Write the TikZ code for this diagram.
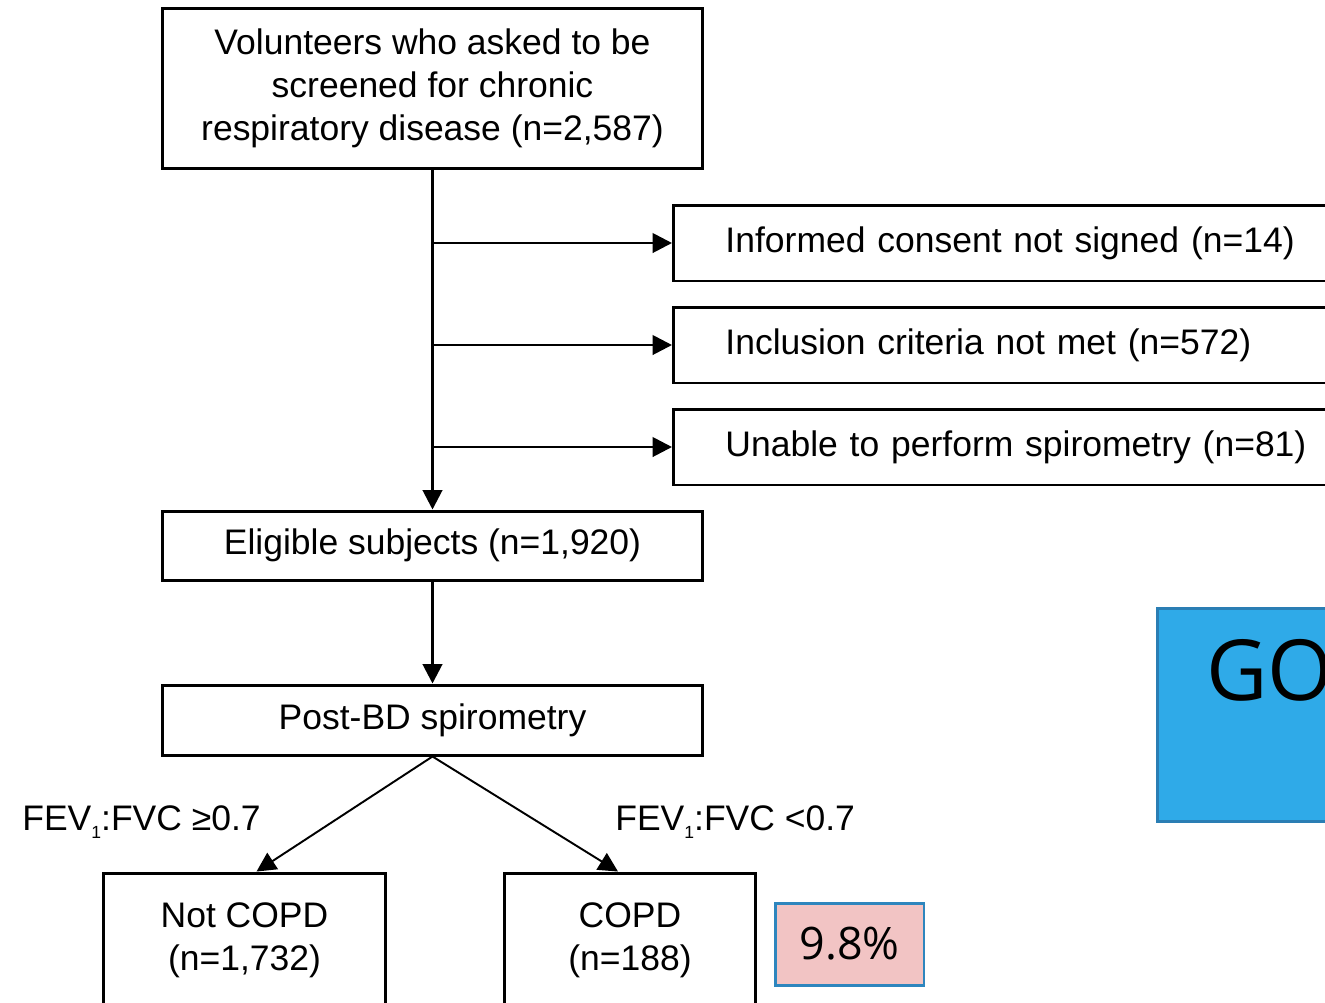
\documentclass[tikz,border=0pt]{standalone}
\usepackage{fontspec}
\setmainfont{Liberation Sans}
\newfontfamily\opensans{Open Sans}
\usetikzlibrary{arrows.meta, positioning}

\definecolor{goblue}{RGB}{47,170,232}
\definecolor{goedge}{RGB}{42,126,180}
\definecolor{pctpink}{RGB}{242,196,196}
\definecolor{pctedge}{RGB}{46,134,190}

\begin{document}
\begin{tikzpicture}[x=0.02cm, y=-0.02cm, >={Triangle[length=11pt, width=11pt]},
    font=\fontsize{20.2}{24.5}\selectfont]
            \tikzset{
                box/.style={
                        draw, line width=1.7pt, align=center, inner sep=0pt
                    },
                sidebox/.style={
                        draw, line width=1.7pt, anchor=west, minimum height=1.52cm,
                        inner xsep=1.04cm, text width=11.92cm, align=left
                    },
                arr/.style={->, line width=1.6pt},
                ratio/.style={anchor=west, inner sep=0pt}
            }
            \useasboundingbox (0,0) rectangle (1325,1002);
            \clip (0,0) rectangle (1325,1002);

            % Main boxes
            \node[box, minimum width=10.82cm, minimum height=3.22cm] (volunteers) at (432.5,88.5)
                {Volunteers who asked to be\\screened for chronic\\respiratory disease (n=2,587)};
            \node[box, minimum width=10.82cm, minimum height=1.38cm] (eligible) at (432.5,545.5)
                {Eligible subjects (n=1,920)};
            \node[box, minimum width=10.82cm, minimum height=1.40cm] (postbd) at (432.5,720)
                {Post-BD spirometry};

            % Exclusions
            \node[sidebox] (consent) at (672,243) {Informed consent not signed (n=14)};
            \node[sidebox] (criteria) at (672,345) {Inclusion criteria not met (n=572)};
            \node[sidebox] (unable) at (672,447) {Unable to perform spirometry (n=81)};

            % Outcomes
            \node[box, minimum width=5.66cm, minimum height=2.68cm] (notcopd) at (244.5,940)
                {Not COPD\\(n=1,732)};
            \node[box, minimum width=5.04cm, minimum height=2.68cm] (copd) at (630,940)
                {COPD\\(n=188)};
            \node[ratio] (ratiohigh) at (22,822) {FEV\raisebox{-0.45ex}{\fontsize{10}{10}\selectfont 1}:FVC ≥0.7};
            \node[ratio] (ratiolow) at (615,822) {FEV\raisebox{-0.45ex}{\fontsize{10}{10}\selectfont 1}:FVC <0.7};

            % Side notes
            \node[draw=pctedge, fill=pctpink, line width=1.7pt, minimum width=2.98cm, minimum height=1.64cm,
                font=\opensans\fontsize{25.5}{25.5}\selectfont] (pct) at (849.5,944) {9.8\%};
            \node[draw=goedge, fill=goblue, line width=1.7pt, anchor=north west,
                minimum width=5cm, minimum height=4.26cm] (gobox) at (1156,607) {};
            \node[anchor=west, inner sep=0pt, font=\opensans\fontsize{48}{48}\selectfont] (go) at (1206,670) {GO};

            % Flow
            \draw[arr] (volunteers.south) -- (eligible.north);
            \draw[arr] (volunteers.south |- consent.west) -- (consent.west);
            \draw[arr] (volunteers.south |- criteria.west) -- (criteria.west);
            \draw[arr] (volunteers.south |- unable.west) -- (unable.west);
            \draw[arr] (eligible.south) -- (postbd.north);
            \draw[->, line width=1.1pt] (postbd.south) -- ([xshift=0.24cm]notcopd.north);
            \draw[->, line width=1.1pt] (postbd.south) -- ([xshift=-0.24cm]copd.north);
        \end{tikzpicture}
\end{document}
